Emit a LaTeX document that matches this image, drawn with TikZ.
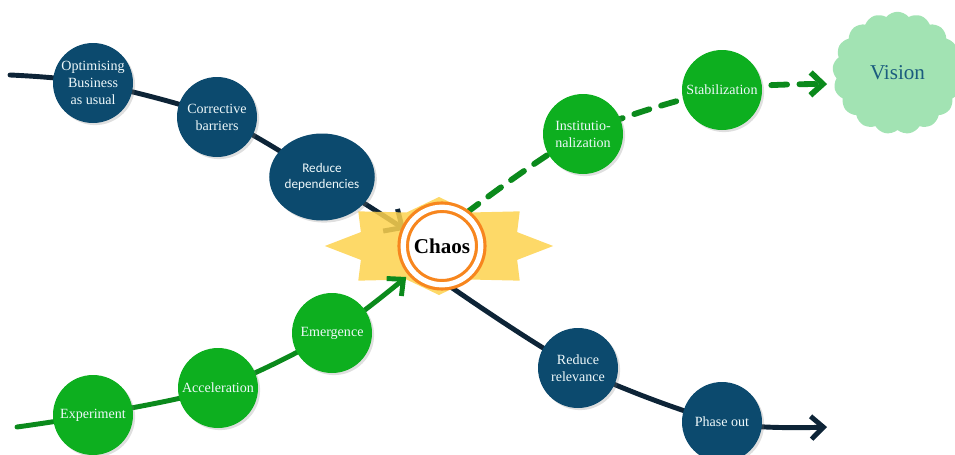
\documentclass[tikz,border=0pt]{standalone}
\usepackage{fontspec}
\setmainfont{Liberation Serif}
\newfontfamily\calibrifont{Carlito}
\usepackage{tikz}
\usetikzlibrary{shapes.geometric, shapes.symbols, arrows.meta, backgrounds, shadows}
\definecolor{NavyNode}{HTML}{0C4A6E}
\definecolor{NavyLine}{HTML}{0D2437}
\definecolor{LeafGreen}{HTML}{0DAF1F}
\definecolor{PathGreen}{HTML}{0B8A1C}
\definecolor{VisionMint}{HTML}{A2E3B3}
\definecolor{VisionText}{HTML}{1B5C7E}
\definecolor{BurstYellow}{HTML}{FDD24E}
\definecolor{ChaosOrange}{HTML}{F7861E}
\definecolor{LabelWhite}{HTML}{EEF8FA}
\tikzset{
  phasecircle/.style={circle, minimum size=1.6cm, inner sep=0pt, text=LabelWhite, font=\fontsize{8}{9.6}\selectfont, align=center, drop shadow={shadow xshift=1.2pt, shadow yshift=-1.2pt, opacity=0.25}},
  navycircle/.style={phasecircle, fill=NavyNode},
  greencircle/.style={phasecircle, fill=LeafGreen},
  chaosring/.style={circle, minimum size=1.55cm, inner sep=0pt, fill=white, draw=ChaosOrange, line width=1.8pt, double=white, double distance=3pt, font=\bfseries\fontsize{12}{14}\selectfont},
  burst/.style={star, star points=8, star point ratio=1.35, minimum size=1.96cm, inner sep=0pt, fill=BurstYellow, fill opacity=0.85, xscale=2.33},
  visioncloud/.style={cloud, cloud puffs=17, cloud puff arc=100, fill=VisionMint, minimum width=2.6cm, minimum height=2.45cm, text=VisionText, font=\fontsize{12}{14}\selectfont},
  navyline/.style={line width=2.8pt, NavyLine, line cap=round, -{Straight Barb[length=7pt,width=13pt]}},
  greenline/.style={line width=2.8pt, PathGreen, line cap=round, -{Straight Barb[length=7pt,width=13pt]}},
  dashedgreen/.style={greenline, line width=3.3pt, dash pattern=on 9pt off 7pt}
}
\begin{document}
\begin{tikzpicture}
  \useasboundingbox (0,0) rectangle (19.1,9.08);
  \clip (0,0) rectangle (19.1,9.08);

  % old curve: business as usual
  \node[navycircle] (opt) at (1.86,7.42) {Optimising\\Business\\as usual};
  \node[navycircle] (corr) at (4.34,6.74) {Corrective\\barriers};
  \node[navycircle, minimum width=1.96cm, minimum height=1.74cm, ellipse, font=\calibrifont\fontsize{7.5}{9.6}\selectfont] (redd) at (6.44,5.54) {Reduce\\dependencies};
  \node[navycircle] (relr) at (11.56,1.72) {Reduce\\relevance};
  \node[navycircle] (phase) at (14.44,0.64) {Phase out};

  % new curve: from experiment to vision
  \node[greencircle] (exp) at (1.86,0.78) {Experiment};
  \node[greencircle] (acc) at (4.36,1.32) {Acceleration};
  \node[greencircle] (emer) at (6.64,2.42) {Emergence};
  \node[greencircle] (inst) at (11.66,6.40) {Institutio-\\nalization};
  \node[greencircle] (stab) at (14.44,7.28) {Stabilization};
  \node[visioncloud] (vision) at (17.95,7.62) {Vision};

  \node[chaosring] (chaos) at (8.84,4.16) {Chaos};

  \coordinate (oldstart) at (0.2,7.58);
  \coordinate (newstart) at (0.34,0.54);
  \coordinate (oldend) at (16.54,0.54);

  \begin{scope}[on background layer]
    \draw[navyline, -{Straight Barb[length=8pt,width=15pt]}] plot[smooth] coordinates {(oldstart) (opt) (corr) (redd) (chaos.156)};
    \node[burst] (burstbg) at (8.78,4.16) {};
    \draw[greenline, shorten >=4pt] plot[smooth] coordinates {(newstart) (exp) (acc) (emer) (chaos.221)};
    \draw[dashedgreen, shorten >=4pt] plot[smooth] coordinates {(chaos.54) (inst) (stab) (vision.190)};
    \draw[navyline] plot[smooth] coordinates {(chaos.-80) (relr) (phase) (oldend)};
  \end{scope}
\end{tikzpicture}
\end{document}
